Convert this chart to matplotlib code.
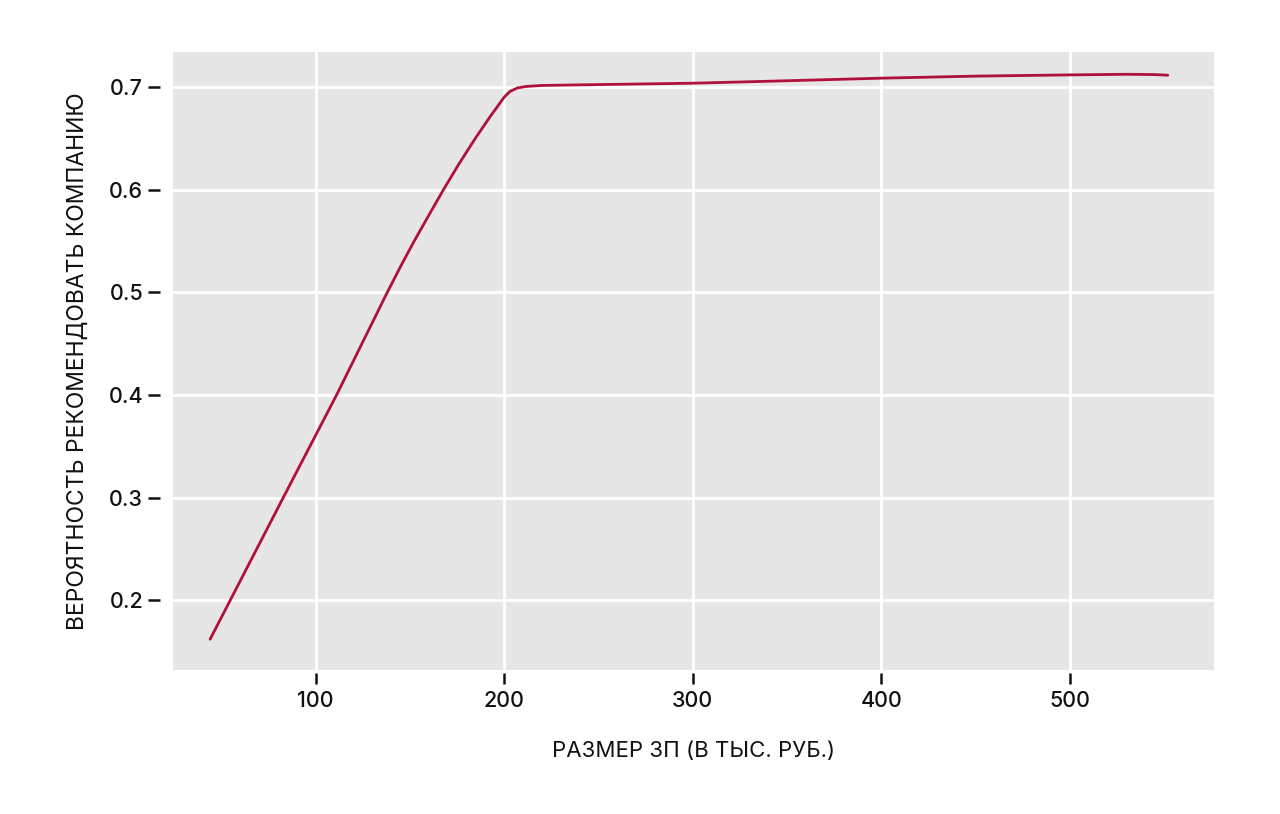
import matplotlib
matplotlib.use("Agg")
import matplotlib.pyplot as plt

# salary (thousand rub) vs probability to recommend the company
salary = [44, 82.8, 111.1, 138, 145, 152.3, 160, 167.8, 176, 184.7,
          192.5, 200, 203, 207, 212, 220, 240, 300, 350, 400, 450, 500, 530, 545, 552]
prob = [0.162, 0.3, 0.4, 0.5, 0.525, 0.55, 0.575, 0.6, 0.625, 0.65,
        0.671, 0.69, 0.6955, 0.699, 0.7005, 0.7014, 0.702, 0.7036, 0.706,
        0.7085, 0.7105, 0.7117, 0.7123, 0.712, 0.7114]

xticks = [100, 200, 300, 400, 500]
yticks = [0.2, 0.3, 0.4, 0.5, 0.6, 0.7]

plt.rcParams['font.family'] = ['Inter', 'DejaVu Sans']
plt.rcParams['font.weight'] = 'medium'

fig = plt.figure(figsize=(12.8, 8.14), dpi=100)
ax = fig.add_axes([173/1280, 144/814, 1041/1280, 618/814])
ax.set_facecolor('#e6e6e6')

ax.plot(salary, prob, color='#b0103a', lw=2, solid_capstyle='round',
        solid_joinstyle='round')

ax.set_xlim(24.3, 576.5)
ax.set_ylim(0.132, 0.734)
ax.set_xticks(xticks)
ax.set_xticklabels([str(t) for t in xticks])
ax.set_yticks(yticks)
ax.set_yticklabels([f"{t:.1f}" for t in yticks])

ax.grid(True, color='white', lw=2)
ax.set_axisbelow(True)
for s in ax.spines.values():
    s.set_visible(False)
# ticks detached from the panel
ax.spines['left'].set_position(('outward', 9.5))
ax.spines['bottom'].set_position(('outward', 2))

ax.tick_params(axis='y', length=9, width=1.8, color='#111111', pad=3,
               labelsize=15.5, labelcolor='#111111')
ax.tick_params(axis='x', length=8, width=1.8, color='#111111', pad=5,
               labelsize=15.5, labelcolor='#111111')

ax.set_xlabel('РАЗМЕР ЗП (В ТЫС. РУБ.)', fontsize=16, labelpad=22, color='#111111')
ax.set_ylabel('ВЕРОЯТНОСТЬ РЕКОМЕНДОВАТЬ КОМПАНИЮ', fontsize=16.5, labelpad=14, color='#111111')

fig.savefig('out.png', dpi=100)
